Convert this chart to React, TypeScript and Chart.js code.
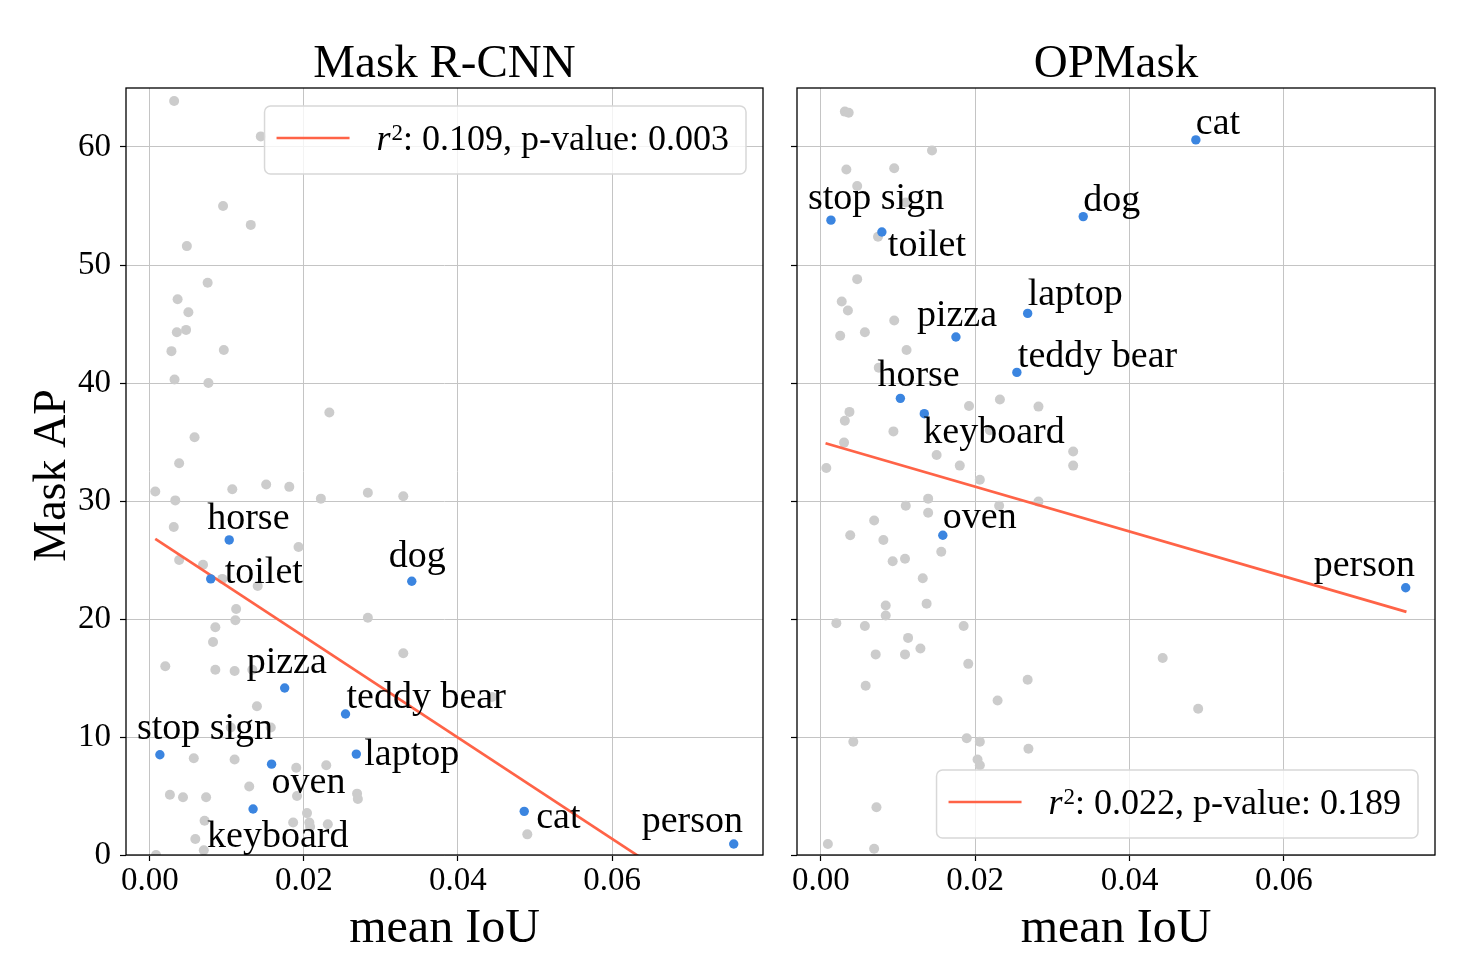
import React, { useEffect, useRef } from "react";
import { Chart, registerables } from "chart.js";

Chart.register(...registerables);

const FONT = '"Liberation Serif", "DejaVu Serif", serif';

// ---------------- data ----------------
const panelTitles = ["Mask R-CNN", "OPMask"];
const xAxisTitle = "mean IoU";
const yAxisTitle = "Mask AP";

const xTickValues = [0, 0.02, 0.04, 0.06];
const xTickLabels = ["0.00", "0.02", "0.04", "0.06"];
const yTickValues = [0, 10, 20, 30, 40, 50, 60];
const xRange = [-0.0031, 0.0796];
const yRange = [0, 65];

const highlightNames = ["horse", "toilet", "dog", "pizza", "teddy bear", "stop sign", "laptop", "oven", "keyboard", "cat", "person"];
const highlightIoU = [0.0103, 0.0079, 0.034, 0.0175, 0.0254, 0.0013, 0.0268, 0.0158, 0.0134, 0.0486, 0.0758];
const maskRcnnHighlightAP = [26.7, 23.4, 23.2, 14.15, 11.95, 8.5, 8.55, 7.7, 3.9, 3.7, 0.93];
const opmaskHighlightAP = [38.7, 52.8, 54.1, 43.9, 40.9, 53.8, 45.9, 27.1, 37.4, 60.6, 22.65];

// label offsets (pixels, relative to the point) for text placement
const maskRcnnLabelOffsets = [[-22, -11], [14, 4], [-23, -14], [-38, -15], [1, -6], [-23, -16], [8, 11], [0, 29], [-46, 38], [12, 17], [-92, -12]];
const opmaskLabelOffsets = [[-23, -12], [6, 24], [0, -6], [-39, -11], [1, -5], [-23, -11], [0, -8], [0, -7], [-1, 29], [0, -6], [-92, -12]];

const maskRcnnOtherIoU = [0.00315, 0.0144, 0.0095, 0.0131, 0.0048, 0.0075, 0.0036, 0.005, 0.0035, 0.0047, 0.0028, 0.0096, 0.0032, 0.0076, 0.0233, 0.0058, 0.0038, 0.0007, 0.0033, 0.0107, 0.0151, 0.0181, 0.0222, 0.0283, 0.0329, 0.0031, 0.0193, 0.0038, 0.0069, 0.0094, 0.014, 0.0112, 0.0111, 0.0283, 0.0085, 0.0082, 0.0329, 0.002, 0.0085, 0.011, 0.0133, 0.0139, 0.0105, 0.0157, 0.0057, 0.011, 0.019, 0.0229, 0.0129, 0.0026, 0.0043, 0.0073, 0.0191, 0.0269, 0.027, 0.0204, 0.0071, 0.0186, 0.0207, 0.0208, 0.0231, 0.0059, 0.007, 0.0008, 0.049, 0.0444];
const maskRcnnOtherAP = [63.9, 60.9, 55.0, 53.4, 51.6, 48.5, 47.1, 46.0, 44.3, 44.5, 42.7, 42.8, 40.3, 40.0, 37.5, 35.4, 33.2, 30.8, 30.05, 31.0, 31.4, 31.2, 30.2, 30.7, 30.4, 27.8, 26.1, 25.0, 24.6, 23.4, 22.8, 20.85, 19.9, 20.1, 19.3, 18.05, 17.1, 16.0, 15.7, 15.6, 15.7, 12.6, 10.8, 10.8, 8.2, 8.1, 7.4, 7.6, 5.8, 5.1, 4.9, 4.9, 5.0, 5.2, 4.75, 3.55, 2.9, 2.75, 2.75, 2.4, 2.6, 1.35, 0.4, 0.0, 1.75, 13.4];

const opmaskOtherIoU = [0.0031, 0.0036, 0.0144, 0.0033, 0.0095, 0.0047, 0.011, 0.0074, 0.0047, 0.0027, 0.0035, 0.0095, 0.0025, 0.0057, 0.0111, 0.0075, 0.0192, 0.0232, 0.0282, 0.0037, 0.0031, 0.0094, 0.0219, 0.003, 0.0327, 0.0327, 0.015, 0.018, 0.0007, 0.0206, 0.0139, 0.011, 0.0231, 0.0282, 0.0139, 0.0069, 0.0038, 0.0081, 0.0156, 0.0093, 0.0109, 0.0132, 0.0084, 0.0084, 0.0137, 0.002, 0.0057, 0.0185, 0.0113, 0.0071, 0.0109, 0.0129, 0.0191, 0.0268, 0.0058, 0.0229, 0.0042, 0.0189, 0.0206, 0.0269, 0.0203, 0.0206, 0.0072, 0.0009, 0.0069, 0.0443, 0.0489];
const opmaskOtherAP = [63.0, 62.9, 59.7, 58.1, 58.2, 56.7, 55.3, 52.4, 48.8, 46.9, 46.15, 45.3, 44.0, 44.3, 42.8, 41.3, 38.05, 38.6, 38.0, 37.55, 36.8, 35.9, 36.0, 34.95, 34.2, 33.0, 33.9, 33.0, 32.8, 31.8, 30.2, 29.6, 29.6, 29.95, 29.0, 28.35, 27.1, 26.7, 25.7, 24.9, 25.1, 23.45, 21.15, 20.3, 21.3, 19.65, 19.4, 19.4, 18.4, 17.0, 17.0, 17.5, 16.2, 14.85, 14.35, 13.1, 9.6, 9.9, 9.6, 9.0, 8.1, 7.6, 4.05, 0.93, 0.53, 16.7, 12.4];

// regression line end points
const maskRcnnFitIoU = [0.0007, 0.0758];
const maskRcnnFitAP = [26.8, -5.4];
const opmaskFitIoU = [0.0006, 0.0759];
const opmaskFitAP = [34.9, 20.6];

const maskRcnnStats = ["0.109", "0.003"];
const opmaskStats = ["0.022", "0.189"];

// ---------------- styles ----------------
const GRAY = "#cccccc";
const BLUE = "#3b85e0";
const FIT = "#ff6347";
const GRID = "#c4c4c4";

type Panel = {
  title: string;
  otherX: number[];
  otherY: number[];
  hiY: number[];
  offsets: number[][];
  fitX: number[];
  fitY: number[];
  stats: string[];
  legendCorner: "upper" | "lower";
  showYLabels: boolean;
  width: number;
  left: number;
  yAxisWidth: number;
  padRight: number;
};

const PLOT_TOP = 88;
const PLOT_BOTTOM = 855;
const H = 970;

const panels: Panel[] = [
  {
    title: panelTitles[0],
    otherX: maskRcnnOtherIoU,
    otherY: maskRcnnOtherAP,
    hiY: maskRcnnHighlightAP,
    offsets: maskRcnnLabelOffsets,
    fitX: maskRcnnFitIoU,
    fitY: maskRcnnFitAP,
    stats: maskRcnnStats,
    legendCorner: "upper",
    showYLabels: true,
    width: 780,
    left: 0,
    yAxisWidth: 126,
    padRight: 780 - 763,
  },
  {
    title: panelTitles[1],
    otherX: opmaskOtherIoU,
    otherY: opmaskOtherAP,
    hiY: opmaskHighlightAP,
    offsets: opmaskLabelOffsets,
    fitX: opmaskFitIoU,
    fitY: opmaskFitAP,
    stats: opmaskStats,
    legendCorner: "lower",
    showYLabels: false,
    width: 698,
    left: 780,
    yAxisWidth: 797 - 780,
    padRight: 698 - (1435 - 780),
  },
];

function drawLegend(ctx: CanvasRenderingContext2D, area: any, panel: Panel) {
  const mainFont = `36px ${FONT}`;
  const italicFont = `italic 36px ${FONT}`;
  const supFont = `23px ${FONT}`;
  const rest = `: ${panel.stats[0]}, p-value: ${panel.stats[1]}`;
  ctx.save();
  ctx.font = italicFont;
  const rW = ctx.measureText("r").width;
  ctx.font = supFont;
  const sW = ctx.measureText("2").width;
  ctx.font = mainFont;
  const restW = ctx.measureText(rest).width;
  const textW = rW + 1 + sW + restW;
  const boxW = 12 + 73 + 27 + textW + 17;
  const boxH = 68;
  const right = area.right - 17;
  const left = right - boxW;
  const top = panel.legendCorner === "upper" ? area.top + 18 : area.bottom - 17 - boxH;
  ctx.beginPath();
  (ctx as any).roundRect(left, top, boxW, boxH, 6);
  ctx.fillStyle = "rgba(255,255,255,0.8)";
  ctx.fill();
  ctx.strokeStyle = "#d8d8d8";
  ctx.lineWidth = 1.5;
  ctx.stroke();
  ctx.beginPath();
  ctx.moveTo(left + 12, top + 32);
  ctx.lineTo(left + 85, top + 32);
  ctx.strokeStyle = FIT;
  ctx.lineWidth = 2.7;
  ctx.stroke();
  const base = top + 44;
  let x = left + 112;
  ctx.fillStyle = "#000";
  ctx.textAlign = "left";
  ctx.textBaseline = "alphabetic";
  ctx.font = italicFont;
  ctx.fillText("r", x, base);
  x += rW + 1;
  ctx.font = supFont;
  ctx.fillText("2", x, base - 10);
  x += sW;
  ctx.font = mainFont;
  ctx.fillText(rest, x, base);
  ctx.restore();
}

function makeDecor(panel: Panel) {
  return {
    id: "panelDecor",
    afterDatasetsDraw(chart: any) {
      const ctx: CanvasRenderingContext2D = chart.ctx;
      const xs = chart.scales.x;
      const ys = chart.scales.y;
      ctx.save();
      ctx.font = `38px ${FONT}`;
      ctx.fillStyle = "#000";
      ctx.textAlign = "left";
      ctx.textBaseline = "alphabetic";
      highlightNames.forEach((name, i) => {
        const px = xs.getPixelForValue(highlightIoU[i]);
        const py = ys.getPixelForValue(panel.hiY[i]);
        ctx.fillText(name, px + panel.offsets[i][0], py + panel.offsets[i][1]);
      });
      ctx.restore();
    },
    afterDraw(chart: any) {
      const ctx: CanvasRenderingContext2D = chart.ctx;
      const a = chart.chartArea;
      drawLegend(ctx, a, panel);
      ctx.save();
      // frame
      ctx.strokeStyle = "#000";
      ctx.lineWidth = 1.3;
      ctx.strokeRect(a.left, a.top, a.right - a.left, a.bottom - a.top);
      // title
      ctx.fillStyle = "#000";
      ctx.textAlign = "center";
      ctx.textBaseline = "alphabetic";
      ctx.font = `47px ${FONT}`;
      const cx = (a.left + a.right) / 2;
      ctx.fillText(panel.title, cx, 77);
      // x axis title
      ctx.font = `48px ${FONT}`;
      ctx.fillText(xAxisTitle, cx, 942);
      if (panel.showYLabels) {
        ctx.save();
        ctx.font = `46px ${FONT}`;
        ctx.translate(65, (a.top + a.bottom) / 2 + 4);
        ctx.rotate(-Math.PI / 2);
        ctx.fillText(yAxisTitle, 0, 0);
        ctx.restore();
      }
      ctx.restore();
    },
  };
}

function buildConfig(panel: Panel): any {
  const otherPts = panel.otherX.map((x, i) => ({ x, y: panel.otherY[i] }));
  const hiPts = highlightIoU.map((x, i) => ({ x, y: panel.hiY[i] }));
  const fitPts = panel.fitX.map((x, i) => ({ x, y: panel.fitY[i] }));
  return {
    type: "scatter",
    data: {
      datasets: [
        { type: "scatter", data: otherPts, backgroundColor: GRAY, borderWidth: 0, pointRadius: 5, pointHoverRadius: 5, order: 3 },
        { type: "line", data: fitPts, borderColor: FIT, borderWidth: 2.7, pointRadius: 0, fill: false, tension: 0, order: 2 },
        { type: "scatter", data: hiPts, backgroundColor: BLUE, borderWidth: 0, pointRadius: 4.7, pointHoverRadius: 4.7, order: 1 },
      ],
    },
    options: {
      responsive: false,
      animation: false,
      events: [],
      layout: { padding: { top: PLOT_TOP, right: panel.padRight, left: 0, bottom: 0 } },
      plugins: { legend: { display: false }, tooltip: { enabled: false }, title: { display: false } },
      scales: {
        x: {
          type: "linear",
          min: xRange[0],
          max: xRange[1],
          afterBuildTicks: (axis: any) => {
            axis.ticks = xTickValues.map((v) => ({ value: v }));
          },
          afterFit: (axis: any) => {
            axis.height = H - PLOT_BOTTOM;
          },
          grid: { color: GRID, lineWidth: 1, tickColor: "#000", tickLength: 6, tickWidth: 1.2 },
          border: { display: false },
          ticks: {
            color: "#000",
            font: { family: FONT, size: 33 },
            padding: 1,
            maxRotation: 0,
            autoSkip: false,
            callback: (_v: any, i: number) => xTickLabels[i],
          },
        },
        y: {
          type: "linear",
          min: yRange[0],
          max: yRange[1],
          afterBuildTicks: (axis: any) => {
            axis.ticks = yTickValues.map((v) => ({ value: v }));
          },
          afterFit: (axis: any) => {
            axis.width = panel.yAxisWidth;
          },
          grid: { color: GRID, lineWidth: 1, tickColor: "#000", tickLength: 6, tickWidth: 1.2 },
          border: { display: false },
          ticks: {
            color: "#000",
            font: { family: FONT, size: 33 },
            padding: 9,
            autoSkip: false,
            callback: (v: any) => (panel.showYLabels ? String(v) : ""),
          },
        },
      },
    },
    plugins: [makeDecor(panel)],
  };
}

function PanelChart({ panel }: { panel: Panel }) {
  const ref = useRef<HTMLCanvasElement | null>(null);
  useEffect(() => {
    if (!ref.current) return;
    const chart = new Chart(ref.current, buildConfig(panel));
    return () => chart.destroy();
  }, [panel]);
  return (
    <canvas
      ref={ref}
      width={panel.width}
      height={H}
      style={{ position: "absolute", left: panel.left, top: 0, width: panel.width, height: H }}
    />
  );
}

export default function App() {
  return (
    <div style={{ position: "absolute", left: 0, top: 0, width: 1478, height: H, background: "#fff" }}>
      {panels.map((p) => (
        <PanelChart key={p.title} panel={p} />
      ))}
    </div>
  );
}
